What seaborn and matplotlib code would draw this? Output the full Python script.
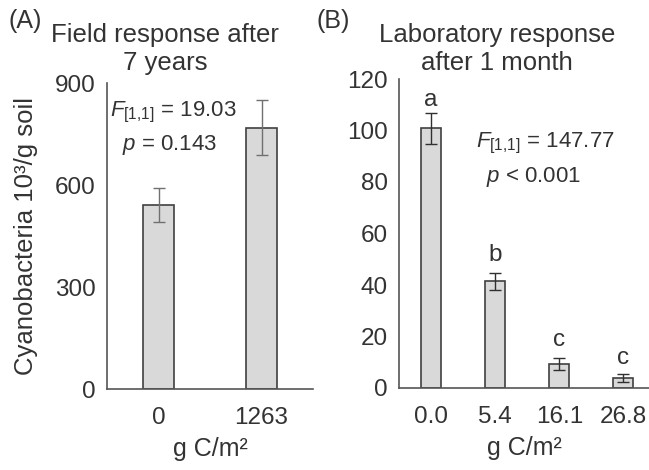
import matplotlib
matplotlib.use("Agg")
import matplotlib.pyplot as plt
import seaborn as sns
import pandas as pd
import numpy as np

sns.set_style("white")
plt.rcParams['font.family'] = ['Liberation Sans', 'DejaVu Sans']
plt.rcParams['mathtext.fontset'] = 'custom'
plt.rcParams['mathtext.it'] = 'Liberation Sans:italic'
plt.rcParams['mathtext.rm'] = 'Liberation Sans'

# Panel A data
field_cats = ["0", "1263"]
field_vals = [542, 768]
field_err = [50, 81]

# Panel B data
lab_cats = ["0.0", "5.4", "16.1", "26.8"]
lab_vals = [100.8, 41.5, 9.2, 4.0]
lab_err = [6.0, 3.3, 2.4, 1.5]
lab_letters = ["a", "b", "c", "c"]
lab_letter_y = [112, 51.5, 18.5, 11.5]

TXT = "#333333"
BAR = "#d9d9d9"
EDGE = "#404040"
FS = 17.5

fig = plt.figure(figsize=(6.49, 4.70), dpi=100)
axA = fig.add_axes([107/649, 1-389/470, (313-107)/649, (389-83)/470])
axB = fig.add_axes([399/649, 1-388/470, (649-399)/649, (388-79)/470])

dfA = pd.DataFrame({"cat": field_cats, "val": field_vals})
sns.barplot(data=dfA, x="cat", y="val", ax=axA, color=BAR, width=0.31,
            edgecolor=EDGE, linewidth=1.2, saturation=1, errorbar=None)
axA.errorbar(np.arange(len(field_cats)), field_vals, yerr=field_err, fmt="none",
             ecolor="#707070", elinewidth=1, capsize=4, capthick=1)
axA.set_ylim(0, 900)
axA.set_yticks([0, 300, 600, 900])
axA.set_xlim(-0.5, 1.5)

dfB = pd.DataFrame({"cat": lab_cats, "val": lab_vals})
sns.barplot(data=dfB, x="cat", y="val", ax=axB, color=BAR, width=0.31,
            edgecolor=EDGE, linewidth=1.2, saturation=1, errorbar=None)
axB.errorbar(np.arange(len(lab_cats)), lab_vals, yerr=lab_err, fmt="none",
             ecolor="#303030", elinewidth=1, capsize=4, capthick=1)
axB.set_ylim(0, 120)
axB.set_yticks([0, 20, 40, 60, 80, 100, 120])
axB.set_xlim(-0.5, 3.4)
for i, (l, y) in enumerate(zip(lab_letters, lab_letter_y)):
    axB.text(i, y, l, ha="center", va="center", fontsize=FS, color=TXT)

for ax in (axA, axB):
    sns.despine(ax=ax)
    ax.spines["left"].set_color("#555555")
    ax.spines["bottom"].set_color("#555555")
    ax.spines["left"].set_linewidth(1.2)
    ax.spines["bottom"].set_linewidth(1.2)
    ax.tick_params(axis="both", length=0, labelsize=FS, colors=TXT)
    ax.tick_params(axis="y", pad=8)
    ax.tick_params(axis="x", pad=13)
    ax.set_xlabel("g C/m²", fontsize=18, color=TXT, labelpad=6)
    ax.set_ylabel("")
    ax.set_facecolor("none")

axA.set_ylabel("Cyanobacteria 10³/g soil", fontsize=18.5, color=TXT, labelpad=12)

axA.text(0.015, 0.905, r"$F_{[1{,}1]}$ = 19.03", transform=axA.transAxes,
         fontsize=16, color=TXT, ha="left", va="center")
axA.text(0.075, 0.797, r"$p$ = 0.143", transform=axA.transAxes,
         fontsize=16, color=TXT, ha="left", va="center")
axB.text(0.308, 0.793, r"$F_{[1{,}1]}$ = 147.77", transform=axB.transAxes,
         fontsize=16, color=TXT, ha="left", va="center")
axB.text(0.348, 0.683, r"$p$ < 0.001", transform=axB.transAxes,
         fontsize=16, color=TXT, ha="left", va="center")

fig.text(8/649, 1-21/470, "(A)", fontsize=18, color=TXT, ha="left", va="center")
fig.text(165/649, 1-49/470, "Field response after\n7 years", fontsize=18.5,
         color=TXT, ha="center", va="center", linespacing=1.25)
fig.text(316/649, 1-21/470, "(B)", fontsize=18, color=TXT, ha="left", va="center")
fig.text(497/649, 1-49/470, "Laboratory response\nafter 1 month", fontsize=18.5,
         color=TXT, ha="center", va="center", linespacing=1.25)

fig.savefig("out.png", dpi=100, facecolor="white")
